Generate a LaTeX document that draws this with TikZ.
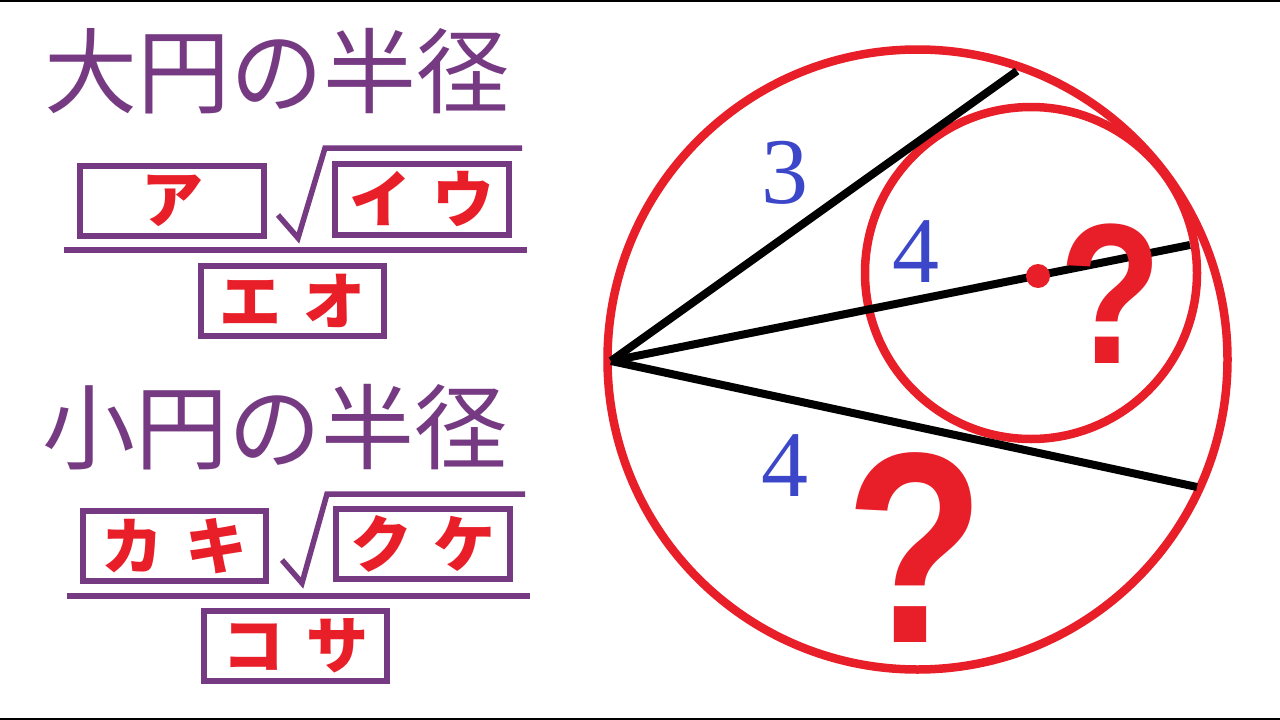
\documentclass[tikz,border=0pt]{standalone}
\usepackage{fontspec}
\setmainfont{Liberation Serif}
\newfontfamily\jp{Noto Sans CJK JP}
\newfontfamily\qsans{Liberation Sans}
\definecolor{purp}{RGB}{118,58,130}
\definecolor{kred}{RGB}{232,30,40}
\definecolor{nblue}{RGB}{60,70,200}
\tikzset{
  kbox/.style={draw=purp, line width=6pt, rectangle, inner sep=0pt,
    minimum width=184pt, minimum height=70pt, text=kred,
    font=\jp\bfseries\fontsize{62}{62}\selectfont},
  title/.style={text=purp, inner sep=0pt, font=\jp\fontsize{93}{93}\selectfont},
  purpline/.style={draw=purp, line width=6pt},
  rootline/.style={draw=purp, line width=5.5pt, line join=miter},
  redcirc/.style={circle, draw=kred, line width=8.5pt, inner sep=0pt},
  chord/.style={draw=black, line width=8pt},
  numlab/.style={text=nblue, inner sep=0pt, font=\fontsize{94}{94}\selectfont},
  qmark/.style={text=kred, inner sep=0pt},
}
\begin{document}
\begin{tikzpicture}[x=1pt,y=-1pt]
\useasboundingbox (0,0) rectangle (1280,720);
\fill[white] (0,0) rectangle (1280,720);
\draw[black, line width=2pt] (0,1) -- (1280,1);
\draw[black, line width=2pt] (0,719) -- (1280,719);

% titles
\node[title] (t1) at (277,71) {大円の半径};
\node[title] (t2) at (275,427) {小円の半径};

% first fraction
\node[kbox] (a1) at (172,201) {ア};
\node[kbox, minimum width=174pt, minimum height=71pt] (a2) at (422,199.5) {イ\hspace{22pt}ウ};
\node[kbox, minimum width=183pt] (a3) at (292.5,301) {エ\hspace{22pt}オ};
\draw[purpline] (64,250) -- (527,250);
\draw[rootline] (278,215) -- (298,238) -- (325,148) -- (522,148);

% second fraction
\node[kbox, minimum width=183pt] (b1) at (174.5,546) {カ\hspace{22pt}キ};
\node[kbox, minimum width=174pt] (b2) at (423,544) {ク\hspace{22pt}ケ};
\node[kbox, minimum width=183pt] (b3) at (295.5,646) {コ\hspace{22pt}サ};
\draw[purpline] (67,596) -- (530,596);
\draw[rootline] (282,560) -- (302,583) -- (327,494) -- (525,494);

% geometry
\node[redcirc, minimum size=620pt] (big) at (917.5,359.5) {};
\node[redcirc, minimum size=332pt] (small) at (1031,273) {};
\coordinate (P) at (611,361);
\coordinate (E1) at (1017,71);
\coordinate (E2) at (1190,245);
\coordinate (E3) at (1197,487);
\draw[chord] (P) -- (E1);
\draw[chord] (P) -- (E2);
\draw[chord] (P) -- (E3);
\node[circle, fill=kred, minimum size=24pt, inner sep=0pt] (ctr) at (1038,276) {};

\node[numlab] (n3) at (785,173) {3};
\node[numlab] (n4a) at (916,252) {4};
\node[numlab] (n4b) at (785,466) {4};
\node[qmark, font=\qsans\bfseries\fontsize{200}{200}\selectfont] (q1) at (1111,294) {\scalebox{0.84}[1]{?}};
\node[qmark, font=\qsans\bfseries\fontsize{272}{272}\selectfont] (q2) at (915,548) {\scalebox{0.84}[1]{?}};
\end{tikzpicture}
\end{document}
